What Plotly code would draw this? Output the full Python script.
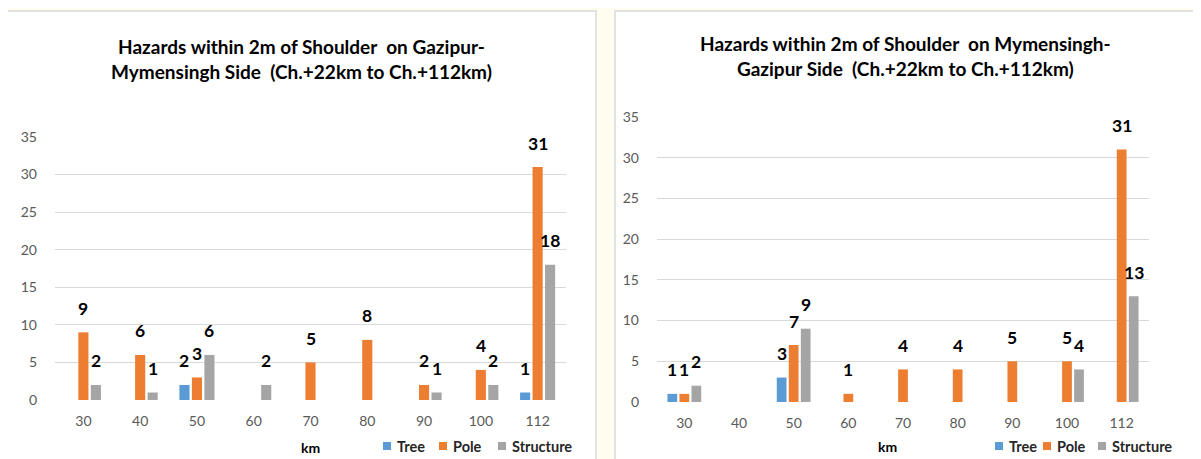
import plotly.graph_objects as go

# ---------------- data ----------------
km_labels = ["30", "40", "50", "60", "70", "80", "90", "100", "112"]
series_names = ["Tree", "Pole", "Structure"]

left_tree = [0, 0, 2, 0, 0, 0, 0, 0, 1]
left_pole = [9, 6, 3, 0, 5, 8, 2, 4, 31]
left_structure = [2, 1, 6, 2, 0, 0, 1, 2, 18]

right_tree = [1, 0, 3, 0, 0, 0, 0, 0, 0]
right_pole = [1, 0, 7, 1, 4, 4, 5, 5, 31]
right_structure = [2, 0, 9, 0, 0, 0, 0, 4, 13]

left_title = "Hazards within 2m of Shoulder  on Gazipur-<br>Mymensingh Side  (Ch.+22km to Ch.+112km)"
right_title = "Hazards within 2m of Shoulder  on Mymensingh-<br>Gazipur Side  (Ch.+22km to Ch.+112km)"
y_ticks = [0, 5, 10, 15, 20, 25, 30, 35]

# ---------------- style ----------------
OFF = 8                      # default page body margin
W, H = 1201 - OFF, 459 - OFF
colors = ["#5B9BD5", "#ED7D31", "#A5A5A5"]
FONT = "Lato"
BARGAP = 0.34
BARGROUPGAP = 0.19
slot = (1 - BARGAP) / 3


def px_x(p):
    return (p - OFF) / W


def px_y(p):
    return 1 - (p - OFF) / H


fig = go.Figure()
xpos = list(range(len(km_labels)))

# legend key positions (px): left edge of the colour square for each series
left_legend_x = [383, 439, 498]
right_legend_x = [995, 1043, 1098]

panels = [
    dict(data=[left_tree, left_pole, left_structure], xa="x", ya="y", lx=left_legend_x, ly=446),
    dict(data=[right_tree, right_pole, right_structure], xa="x2", ya="y2", lx=right_legend_x, ly=446),
]

annotations = []
shapes = [
    dict(type="rect", xref="paper", yref="paper", x0=px_x(6), x1=px_x(596), y0=px_y(470), y1=px_y(11),
         fillcolor="white", line=dict(color="#D9D9D9", width=1.5), layer="below"),
    dict(type="rect", xref="paper", yref="paper", x0=px_x(615), x1=px_x(1199), y0=px_y(470), y1=px_y(11),
         fillcolor="white", line=dict(color="#D9D9D9", width=1.5), layer="below"),
]
legend_font = dict(family=FONT, size=14.5, color="#262626", weight="bold")

for p in panels:
    for k, (name, vals) in enumerate(zip(series_names, p["data"])):
        fig.add_trace(go.Bar(
            x=xpos, y=vals, name=name, marker_color=colors[k],
            marker_line_width=0, xaxis=p["xa"], yaxis=p["ya"],
            showlegend=False, hoverinfo="skip",
        ))
        for i, v in enumerate(vals):
            if v:
                annotations.append(dict(
                    x=i + (k - 1) * slot, y=v, xref=p["xa"], yref=p["ya"],
                    text=str(v), showarrow=False, xanchor="center", yanchor="middle", yshift=24,
                    font=dict(family=FONT, size=17.5, color="#000000", weight="bold"),
                ))
        # legend key: colour square + label
        sx, sy = p["lx"][k], p["ly"]
        shapes.append(dict(type="rect", xref="paper", yref="paper",
                           x0=px_x(sx), x1=px_x(sx + 8), y0=px_y(sy + 4), y1=px_y(sy - 4),
                           fillcolor=colors[k], line=dict(width=0)))
        annotations.append(dict(x=px_x(sx + 12), y=px_y(sy), xref="paper", yref="paper",
                                text=name, xanchor="left", yanchor="middle", showarrow=False,
                                font=legend_font))

title_font = dict(family=FONT, size=19, color="#000000", weight="bold")
km_font = dict(family=FONT, size=14, color="#000000", weight="bold")
annotations += [
    dict(x=px_x(301), y=px_y(59), xref="paper", yref="paper", text=left_title,
         xanchor="center", yanchor="middle", showarrow=False, font=title_font),
    dict(x=px_x(905), y=px_y(56), xref="paper", yref="paper", text=right_title,
         xanchor="center", yanchor="middle", showarrow=False, font=title_font),
    dict(x=px_x(310), y=px_y(447), xref="paper", yref="paper", text="km",
         xanchor="center", yanchor="middle", showarrow=False, font=km_font),
    dict(x=px_x(887), y=px_y(446), xref="paper", yref="paper", text="km",
         xanchor="center", yanchor="middle", showarrow=False, font=km_font),
]

tick_font = dict(family=FONT, size=14, color="#595959")
xaxis_common = dict(
    showgrid=False, zeroline=False, showline=False, ticks="", automargin=False,
    range=[-0.5, 8.5], tickvals=xpos, ticktext=km_labels, ticklabelstandoff=11,
    tickfont=tick_font, fixedrange=True,
)
yaxis_common = dict(
    range=[0, 35], tickvals=y_ticks, showgrid=True, gridcolor="#D9D9D9", gridwidth=1,
    zeroline=False, showline=False, ticks="", ticklabelstandoff=17, automargin=False,
    tickfont=tick_font, fixedrange=True,
)

fig.update_layout(
    template="none",
    width=W, height=H, margin=dict(l=0, r=0, t=0, b=0, autoexpand=False),
    paper_bgcolor="#FFFDF0", plot_bgcolor="rgba(0,0,0,0)",
    barmode="group", bargap=BARGAP, bargroupgap=BARGROUPGAP,
    xaxis=dict(domain=[px_x(55), px_x(566)], anchor="y", **xaxis_common),
    yaxis=dict(domain=[px_y(400), px_y(137)], anchor="x", **yaxis_common),
    xaxis2=dict(domain=[px_x(657), px_x(1149)], anchor="y2", **xaxis_common),
    yaxis2=dict(domain=[px_y(402), px_y(117)], anchor="x2", **yaxis_common),
    annotations=annotations,
    shapes=shapes,
    showlegend=False,
)

fig.write_html("out.html")
